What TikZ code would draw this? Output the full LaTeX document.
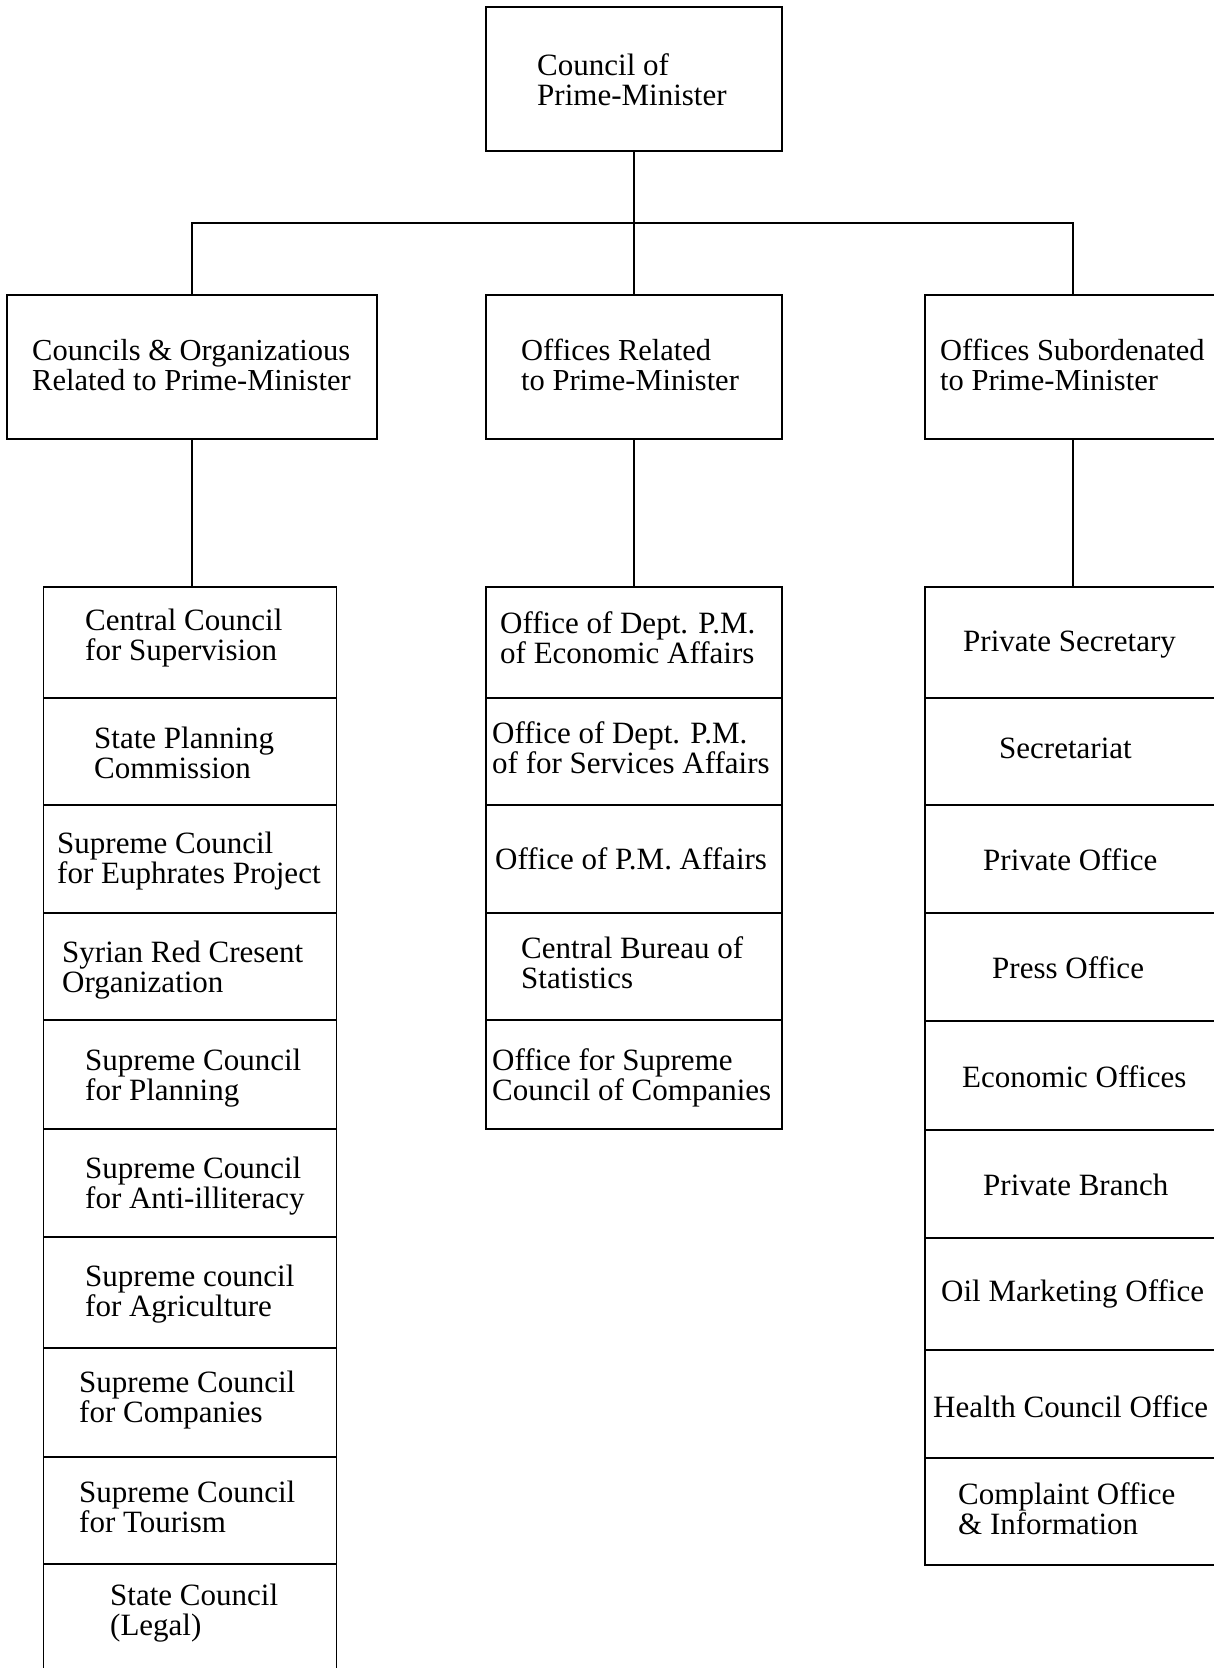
\documentclass[tikz,border=0pt]{standalone}
\usepackage{fontspec}
\setmainfont{Liberation Serif}
\begin{document}
\begin{tikzpicture}[x=1pt,y=-1pt,
  cell/.style={draw, line width=1.6pt, inner sep=0pt, outer sep=0pt},
  conn/.style={line width=1.7pt},
  lbl/.style={anchor=west, align=left, inner sep=0pt,
    font=\fontsize{31}{30}\selectfont},
  hlbl/.style={anchor=west, align=left, inner sep=0pt,
    font=\fontsize{30.5}{30}\selectfont}]
\useasboundingbox (0,0) rectangle (1214,1668);

% top level
\node[cell, minimum width=296, minimum height=144] (top) at (634,79) {};
\node[hlbl, font=\fontsize{31}{30}\selectfont] (ttop) at (537,80) {Council of\\Prime-Minister};

% second level
\node[cell, minimum width=370, minimum height=144] (lft) at (192,367) {};
\node[cell, minimum width=296, minimum height=144] (mid) at (634,367) {};
\node[cell, minimum width=296, minimum height=144] (rgt) at (1073,367) {};
\node[hlbl] (tlft) at (32,365) {Councils \& Organizatious\\Related to Prime-Minister};
\node[hlbl] (tmid) at (521,365) {Offices Related\\to Prime-Minister};
\node[hlbl] (trgt) at (940,365) {Offices Subordenated\\to Prime-Minister};

% left column
\node[cell, minimum width=293, minimum height=111] (L1) at (190,642.5) {};
\node[cell, minimum width=293, minimum height=107] (L2) at (190,751.5) {};
\node[cell, minimum width=293, minimum height=108] (L3) at (190,859) {};
\node[cell, minimum width=293, minimum height=107] (L4) at (190,966.5) {};
\node[cell, minimum width=293, minimum height=109] (L5) at (190,1074.5) {};
\node[cell, minimum width=293, minimum height=108] (L6) at (190,1183) {};
\node[cell, minimum width=293, minimum height=111] (L7) at (190,1292.5) {};
\node[cell, minimum width=293, minimum height=109] (L8) at (190,1402.5) {};
\node[cell, minimum width=293, minimum height=107] (L9) at (190,1510.5) {};
\node[cell, minimum width=293, minimum height=111] (L10) at (190,1619.5) {};
\node[lbl] (tL1) at (85,638) {Central Council\\for Supervision};
\node[lbl] (tL2) at (94,753) {State Planning\\Commission};
\node[lbl] (tL3) at (57,861) {Supreme Council\\for Euphrates Project};
\node[lbl] (tL4) at (62,970) {Syrian Red Cresent\\Organization};
\node[lbl] (tL5) at (85,1078) {Supreme Council\\for Planning};
\node[lbl] (tL6) at (85,1186) {Supreme Council\\for Anti-illiteracy};
\node[lbl] (tL7) at (85,1294) {Supreme council\\for Agriculture};
\node[lbl] (tL8) at (79,1400) {Supreme Council\\for Companies};
\node[lbl] (tL9) at (79,1507) {Supreme Council\\for Tourism};
\node[lbl] (tL10) at (110,1613) {State Council\\(Legal)};

% middle column
\node[cell, minimum width=296, minimum height=111] (M1) at (634,642.5) {};
\node[cell, minimum width=296, minimum height=107] (M2) at (634,751.5) {};
\node[cell, minimum width=296, minimum height=108] (M3) at (634,859) {};
\node[cell, minimum width=296, minimum height=107] (M4) at (634,966.5) {};
\node[cell, minimum width=296, minimum height=109] (M5) at (634,1074.5) {};
\node[lbl] (tM1) at (500,638) {Office of Dept. P.M.\\of Economic Affairs};
\node[lbl] (tM2) at (492,748) {Office of Dept. P.M.\\of for Services Affairs};
\node[lbl] (tM3) at (495,859) {Office of P.M. Affairs};
\node[lbl] (tM4) at (521,963) {Central Bureau of\\Statistics};
\node[lbl] (tM5) at (492,1078) {Office for Supreme\\Council of Companies};

% right column
\node[cell, minimum width=296, minimum height=111] (R1) at (1073,642.5) {};
\node[cell, minimum width=296, minimum height=107] (R2) at (1073,751.5) {};
\node[cell, minimum width=296, minimum height=108] (R3) at (1073,859) {};
\node[cell, minimum width=296, minimum height=108] (R4) at (1073,967) {};
\node[cell, minimum width=296, minimum height=109] (R5) at (1073,1075.5) {};
\node[cell, minimum width=296, minimum height=108] (R6) at (1073,1184) {};
\node[cell, minimum width=296, minimum height=112] (R7) at (1073,1294) {};
\node[cell, minimum width=296, minimum height=108] (R8) at (1073,1404) {};
\node[cell, minimum width=296, minimum height=107] (R9) at (1073,1511.5) {};
\node[lbl] (tR1) at (963,645) {Private Secretary};
\node[lbl] (tR2) at (999,748) {Secretariat};
\node[lbl] (tR3) at (983,860) {Private Office};
\node[lbl] (tR4) at (992,968) {Press Office};
\node[lbl] (tR5) at (962,1077) {Economic Offices};
\node[lbl] (tR6) at (983,1185) {Private Branch};
\node[lbl] (tR7) at (941,1294) {Oil Marketing Office};
\node[lbl] (tR8) at (933,1407) {Health Council Office};
\node[lbl] (tR9) at (958,1509) {Complaint Office\\\& Information};

% connectors
\coordinate (bus) at (634,223);
\draw[conn] (top.south) -- (mid.north);
\draw[conn] (lft.north) |- (bus) -| (rgt.north);
\draw[conn] (lft.south) -- (lft.south |- L1.north);
\draw[conn] (mid.south) -- (M1.north);
\draw[conn] (rgt.south) -- (R1.north);
\end{tikzpicture}
\end{document}
